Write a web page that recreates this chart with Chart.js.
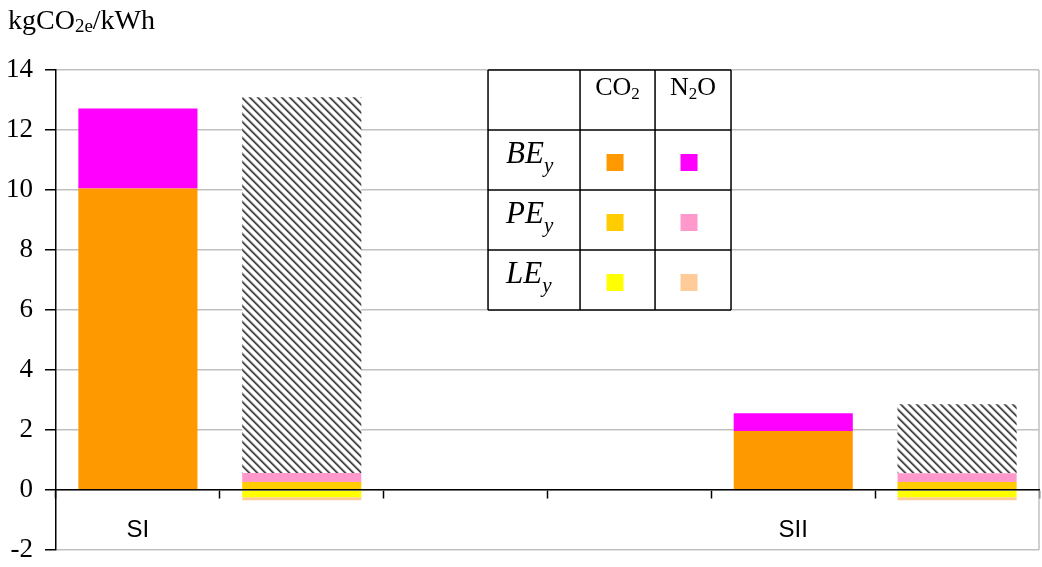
<!DOCTYPE html>
<html>
<head>
<meta charset="utf-8">
<script src="https://cdn.jsdelivr.net/npm/chart.js@4/dist/chart.umd.min.js"></script>
<style>
  html, body { margin: 0; padding: 0; background: #fff; }
  #wrap { width: 1042px; height: 567px; }
</style>
</head>
<body>
<div id="wrap"><canvas id="c" width="1042" height="567"></canvas></div>
<script>
// Emission factors per kWh (kgCO2e/kWh) for the two scenarios
const categories = ['SI', '', '', '', 'SII', ''];
const beCO2  = [10.05, null, null, null, 1.97, null];
const beN2O  = [2.67,  null, null, null, 0.59, null];
const peCO2  = [null, 0.27, null, null, null, 0.27];
const peN2O  = [null, 0.30, null, null, null, 0.29];
const leCO2  = [null, -0.24, null, null, null, -0.24];
const leN2O  = [null, -0.10, null, null, null, -0.10];
const erBar  = [null, 12.52, null, null, null, 2.30];
const yTicks = [-2, 0, 2, 4, 6, 8, 10, 12, 14];

const COL = {
  beCO2: '#FF9900', beN2O: '#FF00FF',
  peCO2: '#FFCC00', peN2O: '#FF99CC',
  leCO2: '#FFFF00', leN2O: '#FFCC99'
};

const legendRows = [
  { name: 'BE', co2: COL.beCO2, n2o: COL.beN2O },
  { name: 'PE', co2: COL.peCO2, n2o: COL.peN2O },
  { name: 'LE', co2: COL.leCO2, n2o: COL.leN2O }
];

const canvas = document.getElementById('c');
const ctx = canvas.getContext('2d');

// Diagonal hatch fill for the reduction bars
function makeHatch() {
  const t = document.createElement('canvas');
  t.width = 8; t.height = 8;
  const g = t.getContext('2d');
  g.fillStyle = '#ffffff';
  g.fillRect(0, 0, 8, 8);
  for (let y = 0; y < 8; y++) {
    for (let x = 0; x < 8; x++) {
      const d = ((x - y) % 8 + 8) % 8;
      if (d === 0) { g.fillStyle = '#3a3a3a'; g.fillRect(x, y, 1, 1); }
      else if (d === 1) { g.fillStyle = '#666666'; g.fillRect(x, y, 1, 1); }
      else if (d === 2 || d === 7) { g.fillStyle = '#b4b4b4'; g.fillRect(x, y, 1, 1); }
    }
  }
  return ctx.createPattern(t, 'repeat');
}

// Text with subscript parts, drawn left to right from x
function richWidth(c, parts) {
  let w = 0;
  for (const p of parts) { c.font = p.font; w += c.measureText(p.text).width; }
  return w;
}
function drawRich(c, x, baseline, parts) {
  for (const p of parts) {
    c.font = p.font;
    c.fillText(p.text, x, baseline + (p.dy || 0));
    x += c.measureText(p.text).width;
  }
  return x;
}

const SERIF = '"Liberation Serif", "Times New Roman", serif';

const unitTitle = {
  id: 'unitTitle',
  afterDraw(chart) {
    const c = chart.ctx;
    c.save();
    c.fillStyle = '#000';
    c.textBaseline = 'alphabetic';
    c.textAlign = 'left';
    drawRich(c, 8, 29, [
      { text: 'kgCO', font: '28px ' + SERIF },
      { text: '2e', font: '19px ' + SERIF, dy: 3 },
      { text: '/kWh', font: '28px ' + SERIF }
    ]);
    c.restore();
  }
};

const plotFrame = {
  id: 'plotFrame',
  beforeDatasetsDraw(chart) {
    const a = chart.chartArea;
    const c = chart.ctx;
    c.save();
    c.strokeStyle = '#c0c0c0';
    c.lineWidth = 1.5;
    c.beginPath();
    c.moveTo(a.right, a.top);
    c.lineTo(a.right, a.bottom);
    c.stroke();
    c.restore();
  }
};

// Legend drawn as a bordered table aligned with the value gridlines
const legendTable = {
  id: 'legendTable',
  afterDraw(chart) {
    const a = chart.chartArea;
    const ys = chart.scales.y;
    const c = chart.ctx;
    const w = a.right - a.left;
    const xs = [a.left + 0.4395 * w, a.left + 0.5331 * w, a.left + 0.6094 * w, a.left + 0.6867 * w];
    const rowsY = [ys.getPixelForValue(14), ys.getPixelForValue(12), ys.getPixelForValue(10),
                   ys.getPixelForValue(8), ys.getPixelForValue(6)];
    c.save();
    c.fillStyle = '#fff';
    c.fillRect(xs[0], rowsY[0], xs[3] - xs[0], rowsY[4] - rowsY[0]);
    c.strokeStyle = '#000';
    c.lineWidth = 1.5;
    c.beginPath();
    for (const x of xs) { c.moveTo(x, rowsY[0]); c.lineTo(x, rowsY[4]); }
    for (const y of rowsY) { c.moveTo(xs[0], y); c.lineTo(xs[3], y); }
    c.stroke();

    c.fillStyle = '#000';
    c.textBaseline = 'alphabetic';
    c.textAlign = 'left';
    const head = rowsY[0] + 25;
    const co2Parts = [
      { text: 'CO', font: '26px ' + SERIF },
      { text: '2', font: '17px ' + SERIF, dy: 4 }
    ];
    const n2oParts = [
      { text: 'N', font: '26px ' + SERIF },
      { text: '2', font: '17px ' + SERIF, dy: 4 },
      { text: 'O', font: '26px ' + SERIF }
    ];
    const cx1 = (xs[1] + xs[2]) / 2, cx2 = (xs[2] + xs[3]) / 2;
    drawRich(c, cx1 - richWidth(c, co2Parts) / 2, head, co2Parts);
    drawRich(c, cx2 - richWidth(c, n2oParts) / 2, head, n2oParts);

    legendRows.forEach((r, i) => {
      const top = rowsY[i + 1], bot = rowsY[i + 2];
      const mid = (top + bot) / 2;
      c.fillStyle = '#000';
      drawRich(c, xs[0] + 18, top + 33, [
        { text: r.name, font: 'italic 31px ' + SERIF },
        { text: 'y', font: 'italic 21px ' + SERIF, dy: 9 }
      ]);
      const s = 17;
      c.fillStyle = r.co2;
      c.fillRect(cx1 - 2.5 - s / 2, mid + 2.5 - s / 2, s, s);
      c.fillStyle = r.n2o;
      c.fillRect(cx2 - 4 - s / 2, mid + 2.5 - s / 2, s, s);
    });
    c.restore();
  }
};

const hatch = makeHatch();

new Chart(ctx, {
  type: 'bar',
  data: {
    labels: categories,
    datasets: [
      { label: 'BE CO2', data: beCO2, backgroundColor: COL.beCO2 },
      { label: 'BE N2O', data: beN2O, backgroundColor: COL.beN2O },
      { label: 'PE CO2', data: peCO2, backgroundColor: COL.peCO2 },
      { label: 'PE N2O', data: peN2O, backgroundColor: COL.peN2O },
      { label: 'LE CO2', data: leCO2, backgroundColor: COL.leCO2 },
      { label: 'LE N2O', data: leN2O, backgroundColor: COL.leN2O },
      { label: 'ER', data: erBar, backgroundColor: hatch }
    ]
  },
  options: {
    responsive: false,
    animation: false,
    events: [],
    layout: { padding: { top: 70, right: 3, bottom: 17, left: 0 } },
    datasets: { bar: { categoryPercentage: 1, barPercentage: 0.727, borderWidth: 0 } },
    plugins: {
      legend: { display: false },
      tooltip: { enabled: false },
      title: { display: false }
    },
    scales: {
      x: {
        stacked: true,
        position: { y: 0 },
        offset: true,
        grid: {
          offset: true, drawOnChartArea: false, drawTicks: true,
          tickLength: 8, tickColor: '#000', tickWidth: 1.5
        },
        border: { display: true, color: '#000', width: 1.5, z: 1 },
        ticks: {
          font: { family: '"Liberation Sans", Arial, sans-serif', size: 24 },
          color: '#000', padding: 18, autoSkip: false, maxRotation: 0
        }
      },
      y: {
        stacked: true,
        min: -2,
        max: 14,
        afterBuildTicks(scale) { scale.ticks = yTicks.map(v => ({ value: v })); },
        afterFit(scale) {
          scale.width = 56;
          scale.paddingBottom = 12;
        },
        grid: {
          color: '#c0c0c0', lineWidth: 1.5, z: -1,
          tickColor: '#000', tickLength: 11, tickWidth: 1.5
        },
        border: { display: true, color: '#000', width: 1.5 },
        ticks: {
          font: { family: SERIF, size: 27 },
          color: '#000', padding: 12
        }
      }
    }
  },
  plugins: [plotFrame, legendTable, unitTitle]
});
</script>
</body>
</html>
